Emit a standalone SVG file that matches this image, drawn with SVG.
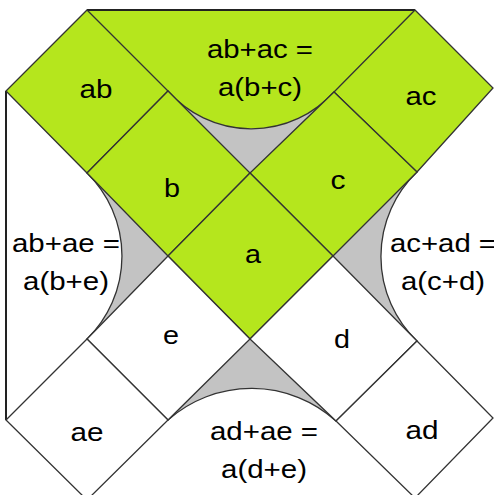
<svg xmlns="http://www.w3.org/2000/svg" width="494" height="495" viewBox="0 0 494 495">
<style>
.g{fill:#b5e61d}
.w{fill:#ffffff}
.gray{fill:#c3c3c3;stroke:none}
.e{fill:none;stroke:#333333;stroke-width:1.3;stroke-linejoin:miter}
.bd{fill:none;stroke:#222222;stroke-width:2}
text{font-family:"Liberation Sans",Arial,sans-serif;font-size:26px;fill:#000000;text-anchor:middle}
</style>
<rect x="0" y="0" width="494" height="495" fill="#ffffff"/>
<g id="region-top">
<path class="g" d="M87,10 L415,10 L334,92 A111,111 0 0 1 168,91 Z"/>
<path class="gray" d="M168,91 L250,173 L334,92 A111,111 0 0 1 168,91 Z"/>
<path class="e" d="M168,91 A111,111 0 0 0 334,92"/>
<line class="bd" x1="87" y1="10" x2="415" y2="10"/>
<text x="260" y="58" textLength="106" lengthAdjust="spacingAndGlyphs">ab+ac =</text>
<text x="260" y="96" textLength="84" lengthAdjust="spacingAndGlyphs">a(b+c)</text>
</g>
<g id="region-left">
<path class="gray" d="M87,173 L168,256 L87,339 A116,116 0 0 0 87,173 Z"/>
<path class="e" d="M87,173 A116,116 0 0 1 87,339"/>
<line class="bd" x1="6" y1="91" x2="6" y2="420"/>
<text x="66" y="252" textLength="108" lengthAdjust="spacingAndGlyphs">ab+ae =</text>
<text x="66" y="290" textLength="86" lengthAdjust="spacingAndGlyphs">a(b+e)</text>
</g>
<g id="region-right">
<path class="gray" d="M417,172 L333,256 L417,341 A117,117 0 0 1 417,172 Z"/>
<path class="e" d="M417,172 A117,117 0 0 0 417,341"/>
<text x="443" y="252" textLength="106" lengthAdjust="spacingAndGlyphs">ac+ad =</text>
<text x="443" y="290" textLength="84" lengthAdjust="spacingAndGlyphs">a(c+d)</text>
</g>
<g id="region-bottom">
<path class="gray" d="M168,420 L250,339 L336,421 A126,126 0 0 0 168,420 Z"/>
<path class="e" d="M168,420 A126,126 0 0 1 336,421"/>
<text x="264" y="440" textLength="108" lengthAdjust="spacingAndGlyphs">ad+ae =</text>
<text x="264" y="478" textLength="86" lengthAdjust="spacingAndGlyphs">a(d+e)</text>
</g>
<g id="node-ab">
<path class="e" style="fill:#b5e61d" d="M87,10 L168,91 L87,173 L6,91 Z"/>
<text x="96" y="98" textLength="33" lengthAdjust="spacingAndGlyphs">ab</text>
</g>
<g id="node-ac">
<path class="e" style="fill:#b5e61d" d="M415,10 L493,88 L417,172 L334,92 Z"/>
<text x="421" y="105" textLength="31" lengthAdjust="spacingAndGlyphs">ac</text>
</g>
<g id="node-b">
<path class="e" style="fill:#b5e61d" d="M168,91 L250,173 L168,256 L87,173 Z"/>
<text x="172" y="197" textLength="16" lengthAdjust="spacingAndGlyphs">b</text>
</g>
<g id="node-c">
<path class="e" style="fill:#b5e61d" d="M334,92 L417,172 L333,256 L250,173 Z"/>
<text x="338" y="189" textLength="15" lengthAdjust="spacingAndGlyphs">c</text>
</g>
<g id="node-a">
<path class="e" style="fill:#b5e61d" d="M250,173 L333,256 L250,339 L168,256 Z"/>
<text x="253" y="263" textLength="16" lengthAdjust="spacingAndGlyphs">a</text>
</g>
<g id="node-e">
<path class="e" style="fill:#ffffff" d="M168,256 L250,339 L168,420 L87,339 Z"/>
<text x="171" y="344" textLength="16" lengthAdjust="spacingAndGlyphs">e</text>
</g>
<g id="node-d">
<path class="e" style="fill:#ffffff" d="M333,256 L417,341 L336,421 L250,339 Z"/>
<text x="342" y="348" textLength="16" lengthAdjust="spacingAndGlyphs">d</text>
</g>
<g id="node-ae">
<path class="e" style="fill:#ffffff" d="M87,339 L168,420 L87,500 L6,420 Z"/>
<text x="87" y="441" textLength="33" lengthAdjust="spacingAndGlyphs">ae</text>
</g>
<g id="node-ad">
<path class="e" style="fill:#ffffff" d="M417,341 L493,418 L415,498 L336,421 Z"/>
<text x="422" y="439" textLength="33" lengthAdjust="spacingAndGlyphs">ad</text>
</g>
<g id="connectors"></g>
</svg>
